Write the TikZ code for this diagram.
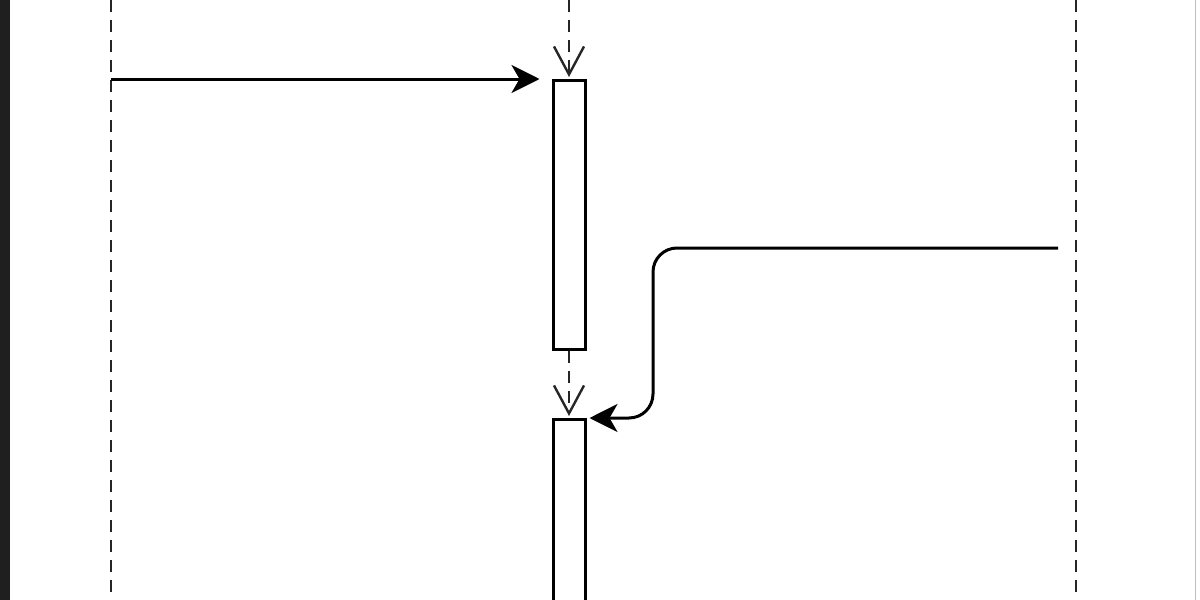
\documentclass[tikz,border=0pt]{standalone}
\usetikzlibrary{arrows.meta}
\begin{document}
\begin{tikzpicture}[
        x=0.5pt, y=-0.5pt,
        lifeline/.style={draw=black!85, line width=1.2pt, dash pattern=on 6pt off 4pt},
        activation/.style={draw, line width=1.5pt, fill=white, minimum width=16pt, inner sep=0pt},
        msg/.style={line width=1.5pt, -{Stealth[length=14pt, width=14pt, inset=4pt]}},
        flow/.style={lifeline, -{Straight Barb[length=14pt, width=15pt, line width=1.2pt]}}
    ]
        \useasboundingbox (0,0) rectangle (1200,600);
        \clip (0,0) rectangle (1200,600);
        % frame edges
        \fill[black!88] (0,0) rectangle (10,600);
        \draw[black!25, line width=0.5pt] (1195.5,0) -- (1195.5,600);

        % lifelines
        \coordinate (leftTop) at (111,0);
        \coordinate (leftBot) at (111,600);
        \coordinate (rightTop) at (1076,0);
        \coordinate (rightBot) at (1076,600);
        \coordinate (midTop) at (569,0);
        \draw[lifeline] (leftTop) -- (leftBot);
        \draw[lifeline] (rightTop) -- (rightBot);

        % activation boxes
        \node[activation, minimum height=134.5pt] (act1) at (569,215) {};
        \node[activation, minimum height=110pt] (act2) at (569,529.5) {};

        \draw[flow, shorten >=1pt] (midTop) -- (act1.north);
        \draw[flow, shorten >=1pt] (act1.south) -- (act2.north);

        % messages
        \coordinate (callA) at (111,79);
        \coordinate (callB) at (1058,248);
        \coordinate (bend) at (653,418);
        \draw[msg, shorten >=6pt] (callA) -- (callA -| act1.west);
        \draw[msg, rounded corners=12pt, shorten >=1.5pt] (callB) -| (bend) -- (bend -| act2.east);
\end{tikzpicture}
\end{document}
